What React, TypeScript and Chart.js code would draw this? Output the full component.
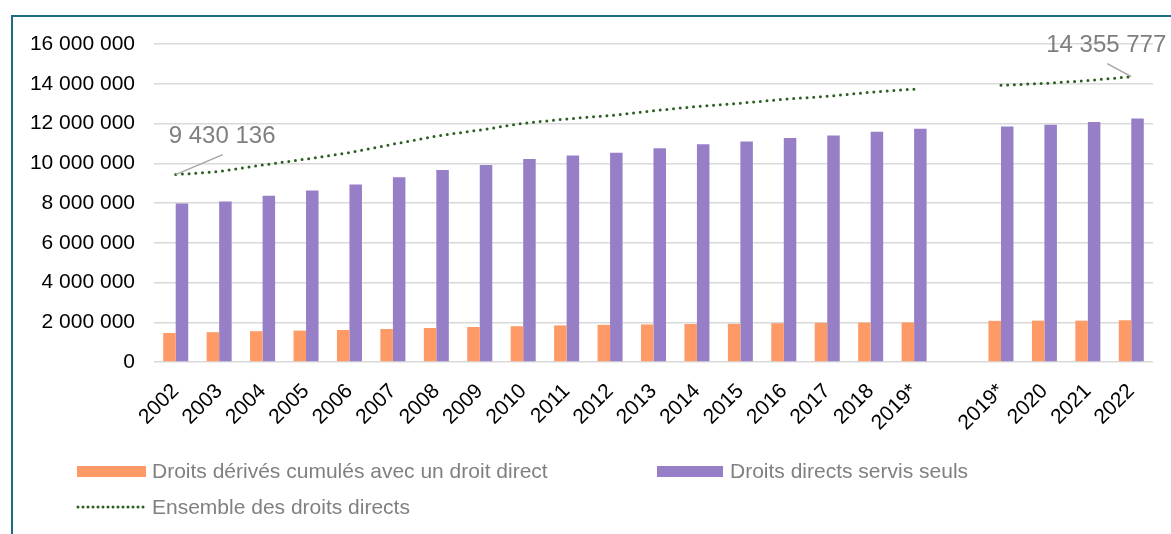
import React, { useEffect, useRef } from 'react';
import { Chart, registerables } from 'chart.js';

Chart.register(...registerables);

const FONT = '"Liberation Sans", Arial, sans-serif';

const categories = [
  '2002', '2003', '2004', '2005', '2006', '2007', '2008', '2009', '2010', '2011',
  '2012', '2013', '2014', '2015', '2016', '2017', '2018', '2019*', '', '2019*',
  '2020', '2021', '2022',
];

const derivedWithDirect = [
  1460000, 1500000, 1550000, 1580000, 1610000, 1660000, 1710000, 1760000, 1800000, 1840000,
  1870000, 1890000, 1910000, 1920000, 1950000, 1970000, 1980000, 1990000, null, 2070000,
  2080000, 2080000, 2100000,
];

const directOnly = [
  7970000, 8080000, 8360000, 8630000, 8930000, 9300000, 9660000, 9910000, 10210000, 10390000,
  10530000, 10750000, 10950000, 11100000, 11270000, 11400000, 11590000, 11740000, null, 11850000,
  11940000, 12080000, 12250000,
];

const allDirect = [
  9430136, 9580000, 9910000, 10210000, 10540000, 10960000, 11370000, 11670000, 12010000, 12230000,
  12400000, 12640000, 12860000, 13020000, 13220000, 13370000, 13570000, 13730000, null, 13920000,
  14020000, 14160000, 14355777,
];

const seriesNames = [
  'Droits dérivés cumulés avec un droit direct',
  'Droits directs servis seuls',
  'Ensemble des droits directs',
];

const yMax = 16000000;
const yStep = 2000000;

const ORANGE = '#FE9A66';
const PURPLE = '#977FC8';
const GREEN = '#2C5E22';

const fmt = (v: number) => String(Math.round(v)).replace(/\B(?=(\d{3})+(?!\d))/g, ' ');

const endLabels = {
  id: 'endLabels',
  afterDatasetsDraw(chart: any) {
    const meta = chart.getDatasetMeta(2);
    const pts = meta.data;
    const first = pts[0];
    const last = pts[pts.length - 1];
    const ctx = chart.ctx;
    ctx.save();
    ctx.strokeStyle = '#a6a6a6';
    ctx.lineWidth = 1.5;
    ctx.beginPath();
    ctx.moveTo(first.x, first.y);
    ctx.lineTo(first.x + 47, first.y - 20);
    ctx.moveTo(last.x - 24, last.y - 13);
    ctx.lineTo(last.x, last.y);
    ctx.stroke();
    ctx.fillStyle = '#7f7f7f';
    ctx.font = '24px ' + FONT;
    ctx.textBaseline = 'middle';
    ctx.textAlign = 'left';
    ctx.fillText(fmt(allDirect[0] as number), first.x - 7, first.y - 38);
    ctx.textAlign = 'right';
    ctx.fillText(fmt(allDirect[allDirect.length - 1] as number), last.x + 35, last.y - 31);
    ctx.restore();
  },
};

export default function App() {
  const ref = useRef<HTMLCanvasElement | null>(null);

  useEffect(() => {
    if (!ref.current) return;
    Chart.defaults.font.family = FONT;
    const chart = new Chart(ref.current, {
      type: 'bar',
      data: {
        labels: categories,
        datasets: [
          {
            type: 'bar',
            label: seriesNames[0],
            data: derivedWithDirect,
            backgroundColor: ORANGE,
            barPercentage: 1,
            categoryPercentage: 0.576,
            order: 1,
          },
          {
            type: 'bar',
            label: seriesNames[1],
            data: directOnly,
            backgroundColor: PURPLE,
            barPercentage: 1,
            categoryPercentage: 0.576,
            order: 1,
          },
          {
            type: 'line',
            label: seriesNames[2],
            data: allDirect,
            borderColor: GREEN,
            borderWidth: 3,
            borderDash: [0, 6.7],
            borderCapStyle: 'round',
            pointRadius: 0,
            spanGaps: false,
            tension: 0,
            order: 0,
          } as any,
        ],
      },
      options: {
        responsive: false,
        animation: false,
        devicePixelRatio: 1,
        layout: { padding: { left: 0, right: 18, top: 44, bottom: 0 } },
        plugins: { legend: { display: false }, tooltip: { enabled: false } },
        scales: {
          x: {
            offset: true,
            grid: { display: false },
            border: { display: false },
            ticks: {
              autoSkip: false,
              maxRotation: 45,
              minRotation: 45,
              color: '#000',
              font: { size: 21 },
              padding: 9,
            },
            afterFit: (s: any) => {
              s.height = 172;
            },
          },
          y: {
            min: 0,
            max: yMax,
            grid: { color: '#d9d9d9', lineWidth: 1.5, drawTicks: false },
            border: { display: false },
            ticks: {
              stepSize: yStep,
              color: '#000',
              font: { size: 21 },
              padding: 19,
              callback: (v: any) => fmt(Number(v)),
            },
            afterFit: (s: any) => {
              s.width = 154;
            },
          },
        },
      },
      plugins: [endLabels],
    });
    return () => chart.destroy();
  }, []);

  const text: React.CSSProperties = {
    position: 'absolute',
    fontFamily: FONT,
    fontSize: 21,
    lineHeight: '24px',
    color: '#808080',
    whiteSpace: 'nowrap',
  };

  return (
    <div style={{ position: 'fixed', left: 0, top: 0, width: 1171, height: 534, background: '#fff', overflow: 'hidden' }}>
      <canvas ref={ref} width={1171} height={534} style={{ position: 'absolute', left: 0, top: 0, display: 'block' }} />
      <div style={{ position: 'absolute', left: 11, top: 15, width: 1160, height: 2, background: '#1F6B86' }} />
      <div style={{ position: 'absolute', left: 11, top: 15, width: 2, height: 519, background: '#1F6B86' }} />
      <div style={{ position: 'absolute', left: 77, top: 466, width: 69, height: 11, background: ORANGE }} />
      <div style={{ ...text, left: 152, top: 459 }}>{seriesNames[0]}</div>
      <div style={{ position: 'absolute', left: 657, top: 466, width: 66, height: 11, background: PURPLE }} />
      <div style={{ ...text, left: 730, top: 459 }}>{seriesNames[1]}</div>
      <svg style={{ position: 'absolute', left: 75, top: 502 }} width={74} height={10}>
        <line x1={3} y1={5} x2={70} y2={5} stroke={GREEN} strokeWidth={3} strokeDasharray="0 5" strokeLinecap="round" />
      </svg>
      <div style={{ ...text, left: 152, top: 495 }}>{seriesNames[2]}</div>
    </div>
  );
}
